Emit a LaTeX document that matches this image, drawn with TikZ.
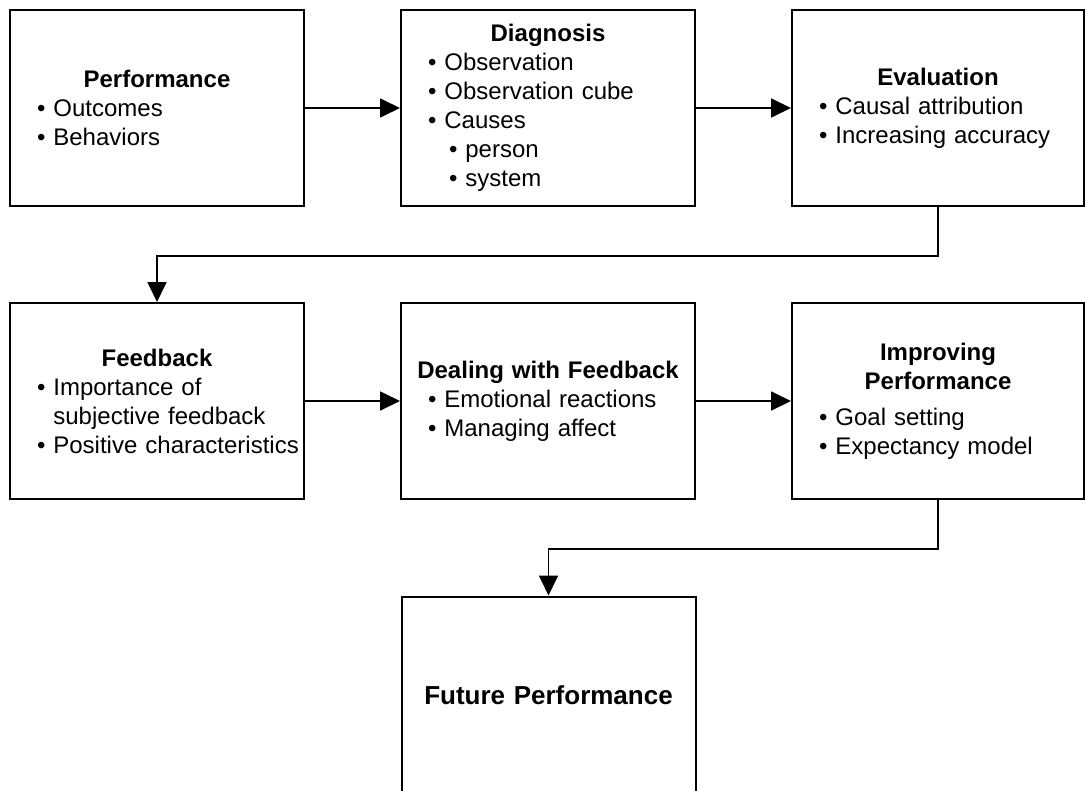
\documentclass[tikz,border=0pt]{standalone}
\usepackage{fontspec}
\setmainfont{Liberation Sans}
\usetikzlibrary{arrows.meta, positioning}

% title line centred in the box, items indented from the left edge
\newcommand{\stagetitle}[1]{{\centering\bfseries #1\par}}
\newcommand{\itm}[1]{\par\noindent\hspace*{13pt}\textbullet\ #1}
\newcommand{\itmcont}[1]{\par\noindent\hspace*{13pt}\phantom{\textbullet\ }#1}
\newcommand{\subitm}[1]{\par\noindent\hspace*{23.5pt}\textbullet\ #1}

\begin{document}
\begin{tikzpicture}[
  x=0.5pt, y=-0.5pt, % pixel grid of the drawing, y runs downwards
  >={Triangle[length=10pt, width=9.5pt]},
  stagebox/.style={draw, line width=1pt, minimum width=147pt, minimum height=98pt,
                   inner sep=0pt, text width=146pt, align=left,
                   font=\fontsize{12}{14.5}\selectfont},
  flow/.style={->, line width=0.9pt}
]
  \useasboundingbox (0,0) rectangle (1085,791);
  \clip (0,0) rectangle (1085,791);

  % first row
  \node[stagebox] (perf) at (157,108) {\stagetitle{Performance}
    \itm{Outcomes}\itm{Behaviors}};
  \node[stagebox] (diag) at (548,108) {\stagetitle{Diagnosis}
    \itm{Observation}\itm{Observation cube}\itm{Causes}
    \subitm{person}\subitm{system}};
  \node[stagebox, minimum width=146pt, text width=145pt] (eval) at (938,108) {\stagetitle{Evaluation}
    \itm{Causal attribution}\itm{Increasing accuracy}};

  % second row
  \node[stagebox] (fb) at (157,401) {\stagetitle{Feedback}
    \itm{Importance of}\itmcont{subjective feedback}\itm{Positive characteristics}};
  \node[stagebox] (deal) at (548,401) {\stagetitle{Dealing with Feedback}
    \itm{Emotional reactions}\itm{Managing affect}};
  \node[stagebox, minimum width=146pt, text width=145pt] (impr) at (938,401) {\stagetitle{Improving}\stagetitle{Performance}
    \vspace{3.5pt}\itm{Goal setting}\itm{Expectancy model}};

  % last box, its bottom edge lies below the page
  \node[stagebox, minimum height=99pt, font=\fontsize{13}{15}\selectfont]
    (fut) at (548.5,695.5) {\stagetitle{Future Performance}};

  % connectors
  \draw[flow] (perf) -- (diag);
  \draw[flow] (diag) -- (eval);
  \draw[flow] (eval.south) -- ++(0,49) -| (fb.north);
  \draw[flow] (fb) -- (deal);
  \draw[flow] (deal) -- (impr);
  \draw[flow] (impr.south) -- ++(0,49) -| (fut.north);
\end{tikzpicture}
\end{document}
